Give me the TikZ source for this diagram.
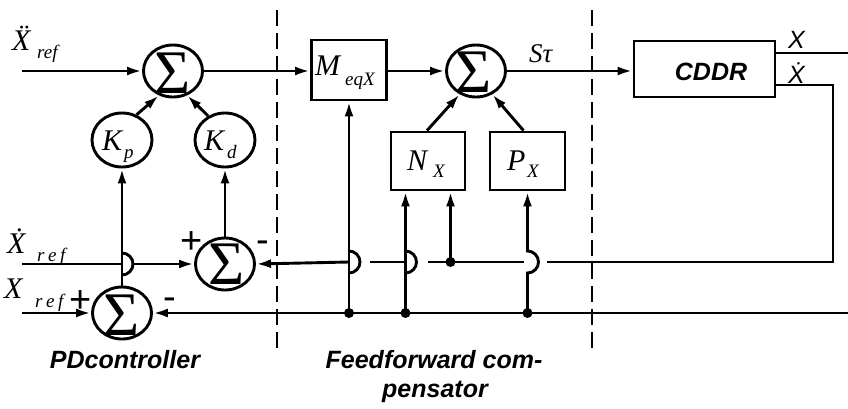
\documentclass[tikz,border=0pt]{standalone}
\usepackage{fontspec}
\setmainfont{Liberation Serif}
\setsansfont{Liberation Sans}
\usetikzlibrary{shapes.geometric,arrows.meta}
\newcommand{\fsz}[1]{\fontsize{#1}{#1}\selectfont}
\begin{document}
\begin{tikzpicture}[x=1pt,y=-1pt,
  ln/.style={line width=2.9pt},
  arr/.style={-{Latex[length=15pt,width=9pt]}},
  sumnode/.style={ellipse,draw,line width=2.9pt,minimum width=59pt,minimum height=52pt,inner sep=0pt},
  gainnode/.style={ellipse,draw,line width=2.9pt,minimum width=60pt,minimum height=54pt,inner sep=0pt},
  blk/.style={rectangle,draw,line width=2.9pt,inner sep=0pt},
  sig/.style={inner sep=0pt,font=\fsz{62}},
  mtxt/.style={inner sep=0pt,anchor=base west,font=\fsz{30}\itshape},
  subtxt/.style={inner sep=0pt,anchor=base west,font=\fsz{19}\itshape},
  sgn/.style={inner sep=0pt,anchor=base,font=\sffamily\fsz{38}},
  captxt/.style={inner sep=0pt,anchor=base,font=\sffamily\bfseries\itshape\fsz{25}},
  dsh/.style={line width=2.4pt,dash pattern=on 16pt off 7pt},
  dotnode/.style={circle,fill,inner sep=0pt,minimum size=10pt}
]
\useasboundingbox (0,0) rectangle (848,408);

% dashed separators
\coordinate (d1t) at (277,10); \coordinate (d1b) at (277,355);
\coordinate (d2t) at (592,10); \coordinate (d2b) at (592,350);
\draw[dsh] (d1t) -- (d1b);
\draw[dsh] (d2t) -- (d2b);

% blocks
\node[sumnode] (sum1) at (173,71) {};
\node[sig] (sig1) at (173,73) {Σ};
\node[gainnode] (kp) at (122,140) {};
\node[gainnode] (kd) at (225,140) {};
\node[sumnode] (sum2) at (225,264) {};
\node[sig] (sig2) at (227,264) {Σ};
\node[sumnode] (sum3) at (122,313) {};
\node[sig] (sig3) at (122,315) {Σ};
\node[blk,minimum width=75pt,minimum height=60pt] (meq) at (349,70) {};
\node[sumnode] (sum4) at (476,71) {};
\node[sig] (sig4) at (474,72) {Σ};
\node[blk,minimum width=74pt,minimum height=58pt] (nx) at (428,161) {};
\node[blk,minimum width=75pt,minimum height=58pt] (px) at (527.5,161) {};
\node[blk,minimum width=141pt,minimum height=56pt] (cddr) at (704.5,69) {};
\node[inner sep=0pt,font=\sffamily\bfseries\itshape\fsz{25}] (cddrt) at (711,72) {CDDR};

% math labels
\node[mtxt] (lxdd) at (12,50) {Ẍ};
\node[subtxt] (lxdds) at (37,58) {ref};
\node[mtxt] (lxd) at (7,253) {Ẋ};
\node[subtxt] (lxds) at (37,261) {r\kern3.5pt e\kern3.5pt f};
\node[mtxt] (lx) at (4,298) {X};
\node[subtxt] (lxs) at (35,307) {r\kern3.5pt e\kern3.5pt f};
\node[mtxt] (lkp) at (102,150) {K};
\node[subtxt] (lkps) at (124,158) {p};
\node[mtxt] (lkd) at (204,150) {K};
\node[subtxt] (lkds) at (227,158) {d};
\node[mtxt] (lm) at (315,75) {M};
\node[subtxt] (lms) at (345,85) {eqX};
\node[mtxt] (lnx) at (407,170) {N};
\node[subtxt] (lns) at (433,177) {X};
\node[mtxt] (lpx) at (507,170) {P};
\node[subtxt] (lps) at (527,177) {X};
\node[mtxt,font=\fsz{27}\itshape] (lst) at (529,62) {Sτ};
\node[inner sep=0pt,anchor=base west,font=\sffamily\itshape\fsz{25}] (lox) at (788,48) {X};
\node[inner sep=0pt,anchor=base west,font=\sffamily\itshape\fsz{25}] (loxd) at (788,83) {Ẋ};

% signs
\node[sgn] (p3) at (81,312) {+};
\node[sgn] (m3) at (170,309) {-};
\node[sgn] (p2) at (192,253) {+};
\node[sgn] (m2) at (263,252) {-};

% captions
\node[captxt] (cpd) at (125,368) {PDcontroller};
\node[captxt] (cff1) at (434,368) {Feedforward com-};
\node[captxt] (cff2) at (435,397) {pensator};

% coordinates
\coordinate (xddin) at (22,71);
\coordinate (xdin) at (22,264);
\coordinate (xin) at (22,313);
\coordinate (xout) at (848,53);
\coordinate (fbr) at (833,262);
\coordinate (botr) at (848,313);

% forward path
\draw[ln,arr] (xddin) -- (sum1.west);
\draw[ln,arr] (sum1.east) -- (sum1.east -| meq.west);
\draw[ln,arr] (sum4.west -| meq.east) -- (sum4.west);
\draw[ln,arr] (sum4.east) -- (sum4.east -| cddr.west);
\draw[ln] ([yshift=16pt]cddr.east) -- (xout);
\draw[ln,arr] (kp.60) -- (sum1.240);
\draw[ln,arr] (kd.125) -- (sum1.300);
\draw[ln,arr] ([xshift=-1pt]nx.north) -- (sum4.235);
\draw[ln,arr] ([xshift=-4pt]px.north) -- (sum4.305);

% PD part
\draw[ln,arr] (xin) -- (sum3.west);
\draw[ln,arr] (sum3.north) -- (kp.south);
\draw[ln,arr] (sum2.north) -- (kd.south);
\draw[ln] (xdin) -- (122,264);
\draw[ln] (122,253) arc[start angle=90,end angle=-90,radius=11pt];
\draw[ln,arr] (133,264) -- (sum2.west);

% bottom feedback
\draw[ln,arr] (botr) -- (sum3.east);
\node[dotnode] (dm) at (349,313) {};
\node[dotnode] (dn) at (405.5,313) {};
\node[dotnode] (dp) at (527.5,313) {};
\draw[ln,arr] (dm.center) -- (meq.south);
\draw[ln,arr] (dn.center) -- ([xshift=-22.5pt]nx.south);
\draw[ln,arr] (dp.center) -- (527.5,273) arc[start angle=-90,end angle=90,radius=11pt] -- (px.south);

% velocity feedback
\draw[ln] ([yshift=-16pt]cddr.east) -| (fbr) -- (547,262);
\draw[ln] (524,262) -- (428,262);
\node[dotnode] (dn2) at (450.5,262) {};
\draw[ln,arr] (dn2.center) -- ([xshift=22.5pt]nx.south);
\draw[ln] (405.5,251) arc[start angle=90,end angle=-90,radius=11pt];
\draw[ln] (405.5,262) -- (370,262);
\draw[ln] (349,251) arc[start angle=90,end angle=-90,radius=11pt];
\draw[ln,arr] (349,262) -- (sum2.east);
\end{tikzpicture}
\end{document}
